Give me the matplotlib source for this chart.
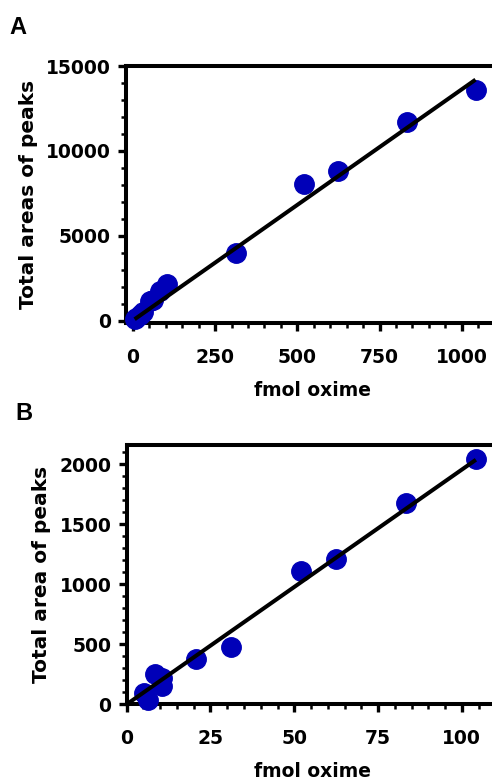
import matplotlib
matplotlib.use('Agg')
import matplotlib.pyplot as plt
from matplotlib.ticker import MultipleLocator
import numpy as np


# panel A: whole range
fmol_a = [5.2, 10.4, 20.8, 31.25, 52.1, 62.5, 83.3, 104.2, 312.5, 520.8, 625.0, 833.3, 1041.7]
area_a = [100, 200, 380, 520, 1150, 1250, 1750, 2150, 4000, 8050, 8820, 11720, 13600]
fit_a = (13.6, 30.0)  # slope, intercept
fit_a_range = (5.2, 1041.7)

# panel B: low range
fmol_b = [5.2, 6.25, 8.3, 10.4, 10.4, 20.8, 31.25, 52.1, 62.5, 83.3, 104.2]
area_b = [95, 35, 255, 215, 150, 375, 480, 1110, 1210, 1680, 2045]
fit_b = (19.55, 0.0)
fit_b_range = (0.0, 104.2)

BLUE = '#0000b8'

plt.rcParams['font.family'] = 'DejaVu Sans'
plt.rcParams['font.weight'] = 'bold'


def style_axes(ax, xmajor, xminor, ymajor, yminor):
    for side in ['left', 'bottom', 'top']:
        ax.spines[side].set_linewidth(2.9)
    ax.spines['right'].set_visible(False)
    ax.xaxis.set_major_locator(MultipleLocator(xmajor))
    ax.xaxis.set_minor_locator(MultipleLocator(xminor))
    ax.yaxis.set_major_locator(MultipleLocator(ymajor))
    ax.yaxis.set_minor_locator(MultipleLocator(yminor))
    ax.tick_params(which='major', direction='out', length=6.0, width=2.4, pad=5, labelsize=13.5)
    ax.tick_params(which='minor', direction='out', length=3.6, width=1.8)
    ax.tick_params(axis='x', which='major', pad=12)


def draw_panel(ax, x, y, fit, rng):
    ax.plot(x, y, 'o', color=BLUE, markersize=14, zorder=3, clip_on=False)
    xs = np.array(rng)
    ax.plot(xs, fit[0] * xs + fit[1], color='black', lw=2.9, zorder=4,
            solid_capstyle='butt')


fig = plt.figure(figsize=(4.92, 7.81), dpi=100)

ax1 = fig.add_axes([126 / 492, 1 - 323 / 781, 372 / 492, 257 / 781])
draw_panel(ax1, fmol_a, area_a, fit_a, fit_a_range)
ax1.set_xlim(-21, 1110)
ax1.set_ylim(-120, 15000)
style_axes(ax1, 250, 50, 5000, 1000)
ax1.set_xlabel('fmol oxime', fontsize=13.5, fontweight='bold', labelpad=10)
ax1.set_ylabel('Total areas of peaks', fontsize=14.5, fontweight='bold', labelpad=6)

ax2 = fig.add_axes([126.7 / 492, 1 - 704.3 / 781, 372 / 492, 259.3 / 781])
draw_panel(ax2, fmol_b, area_b, fit_b, fit_b_range)
ax2.set_xlim(0, 111)
ax2.set_ylim(0, 2160)
style_axes(ax2, 25, 5, 500, 100)
ax2.set_xlabel('fmol oxime', fontsize=13.5, fontweight='bold', labelpad=10)
ax2.set_ylabel('Total area of peaks', fontsize=14.5, fontweight='bold', labelpad=6)

fig.text(18 / 492, 1 - 27 / 781, 'A', fontsize=17, fontweight='bold',
         family='Liberation Sans', ha='center', va='center')
fig.text(24 / 492, 1 - 414 / 781, 'B', fontsize=17, fontweight='bold',
         family='Liberation Sans', ha='center', va='center')

fig.savefig('out.png', dpi=100)
